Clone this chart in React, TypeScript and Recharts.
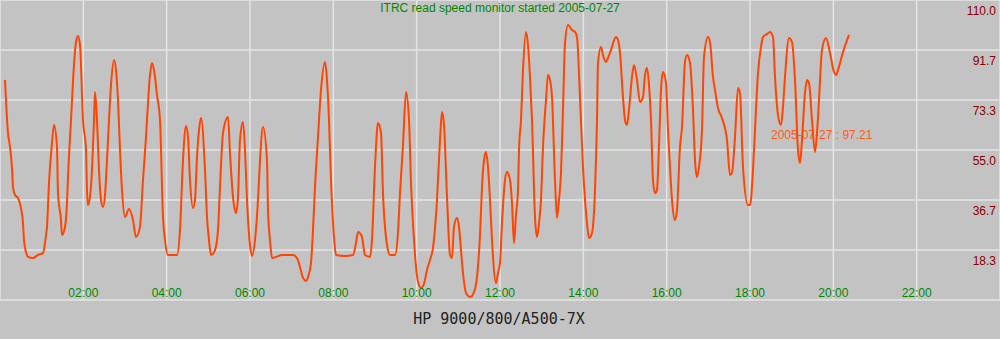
import React from "react"
import { LineChart, Line, XAxis, YAxis, CartesianGrid } from "recharts"

// hours since midnight
const times = [
  0.12, 0.192, 0.24, 0.288, 0.312, 0.36, 0.432, 0.504, 0.552, 0.576, 0.624, 0.672, 0.792, 0.912, 1.032, 1.104, 1.128,
  1.176, 1.248, 1.296, 1.368, 1.392, 1.464, 1.488, 1.56, 1.608, 1.632, 1.704, 1.776, 1.824, 1.872, 1.92, 1.992, 2.064,
  2.088, 2.112, 2.16, 2.208, 2.256, 2.28, 2.328, 2.376, 2.424, 2.472, 2.52, 2.568, 2.616, 2.664, 2.736, 2.784, 2.832,
  2.88, 2.928, 3.0, 3.096, 3.192, 3.264, 3.36, 3.432, 3.504, 3.528, 3.6, 3.648, 3.696, 3.768, 3.84, 3.912, 3.96, 4.032,
  4.248, 4.32, 4.392, 4.464, 4.512, 4.56, 4.632, 4.68, 4.728, 4.776, 4.824, 4.92, 4.968, 5.016, 5.064, 5.16, 5.232,
  5.28, 5.352, 5.472, 5.52, 5.592, 5.664, 5.712, 5.76, 5.832, 5.88, 5.928, 6.0, 6.048, 6.12, 6.192, 6.24, 6.312, 6.408,
  6.432, 6.48, 6.528, 6.624, 6.768, 7.032, 7.128, 7.2, 7.272, 7.344, 7.392, 7.464, 7.512, 7.56, 7.632, 7.704, 7.8,
  7.848, 7.896, 7.944, 8.016, 8.064, 8.28, 8.472, 8.544, 8.592, 8.688, 8.76, 8.88, 8.928, 9.0, 9.072, 9.144, 9.192,
  9.288, 9.36, 9.48, 9.552, 9.6, 9.672, 9.744, 9.816, 9.864, 9.936, 10.032, 10.104, 10.176, 10.248, 10.32, 10.392,
  10.488, 10.56, 10.608, 10.656, 10.728, 10.8, 10.848, 10.896, 10.968, 11.016, 11.064, 11.112, 11.184, 11.28, 11.376,
  11.448, 11.52, 11.568, 11.616, 11.664, 11.712, 11.76, 11.808, 11.904, 11.952, 12.0, 12.048, 12.12, 12.168, 12.24,
  12.288, 12.336, 12.384, 12.432, 12.456, 12.504, 12.552, 12.624, 12.672, 12.72, 12.768, 12.84, 12.888, 12.936, 12.984,
  13.032, 13.104, 13.152, 13.2, 13.248, 13.32, 13.368, 13.416, 13.464, 13.512, 13.56, 13.632, 13.728, 13.8, 13.848,
  13.92, 13.992, 14.088, 14.136, 14.208, 14.28, 14.328, 14.352, 14.424, 14.472, 14.544, 14.592, 14.664, 14.784, 14.832,
  14.88, 14.952, 15.0, 15.048, 15.096, 15.168, 15.216, 15.288, 15.36, 15.432, 15.48, 15.528, 15.576, 15.624, 15.672,
  15.72, 15.768, 15.816, 15.864, 15.912, 15.984, 16.032, 16.08, 16.128, 16.2, 16.248, 16.32, 16.368, 16.44, 16.488,
  16.56, 16.632, 16.68, 16.728, 16.776, 16.848, 16.896, 16.992, 17.04, 17.112, 17.16, 17.232, 17.328, 17.448, 17.52,
  17.568, 17.64, 17.712, 17.76, 17.832, 17.952, 18.0, 18.072, 18.12, 18.192, 18.264, 18.312, 18.408, 18.48, 18.552,
  18.6, 18.672, 18.744, 18.792, 18.84, 18.936, 19.008, 19.08, 19.152, 19.2, 19.248, 19.32, 19.368, 19.416, 19.488,
  19.56, 19.608, 19.656, 19.728, 19.824, 19.92, 20.016, 20.064, 20.112, 20.232, 20.376,
]

// read speed
const speeds = [
  80.7, 61.2, 56.1, 48.4, 41.4, 38.5, 37.4, 33.7, 28.2, 22.0, 17.6, 15.8, 15.4, 16.5, 17.2, 23.8, 26.8,
  42.9, 57.6, 64.2, 56.1, 39.2, 29.3, 23.8, 26.8, 35.6, 45.1, 66.0, 86.2, 94.6, 96.8, 93.5, 66.0, 55.0,
  40.3, 34.8, 37.8, 47.7, 66.0, 76.3, 66.0, 47.7, 36.7, 34.1, 38.5, 51.3, 66.0, 78.8, 88.0, 84.3, 73.3,
  55.0, 40.3, 30.4, 33.4, 29.3, 23.1, 26.8, 44.0, 59.8, 66.0, 82.5, 86.9, 84.3, 75.2, 66.0, 30.4, 22.0, 16.5,
  16.5, 25.7, 51.3, 63.8, 59.8, 44.0, 33.7, 36.7, 52.4, 62.3, 66.7, 47.7, 30.4, 22.0, 16.5, 18.3, 25.7,
  41.4, 61.2, 67.1, 53.9, 37.8, 31.9, 37.8, 58.7, 65.3, 55.0, 36.7, 20.2, 16.1, 22.0, 36.7, 51.3, 63.4, 51.3,
  33.0, 22.0, 15.4, 15.8, 16.5, 16.5, 15.4, 12.1, 8.1, 7.0, 8.4, 13.6, 25.7, 41.4, 59.8, 77.0, 87.3,
  80.7, 66.0, 44.0, 23.1, 16.5, 16.1, 16.5, 20.9, 24.9, 23.1, 16.5, 15.8, 22.0, 48.8, 64.9, 61.2, 39.2,
  20.2, 16.5, 16.5, 24.9, 39.2, 56.8, 76.3, 66.0, 42.9, 22.0, 6.6, 4.4, 5.9, 11.0, 14.7, 19.1,
  36.7, 58.7, 68.9, 64.2, 37.8, 16.5, 15.4, 26.8, 30.1, 26.8, 18.3, 9.9, 2.6, 1.1, 2.9,
  8.4, 23.8, 41.4, 51.3, 54.3, 48.8, 36.7, 22.0, 6.2, 9.9, 13.6, 28.2, 44.0, 46.9, 44.0,
  35.6, 20.9, 31.2, 40.3, 55.0, 66.0, 84.3, 98.3, 93.5, 81.8, 66.0, 30.4, 23.1, 28.2, 36.7,
  56.1, 73.3, 82.5, 80.7, 74.4, 44.0, 30.1, 36.7, 46.6, 69.7, 94.2, 100.8, 99.0, 98.3, 96.4,
  74.4, 48.8, 28.2, 22.7, 24.6, 40.3, 66.0, 86.9, 92.8, 89.8, 87.3, 88.7, 91.7, 96.4, 95.3,
  90.6, 74.4, 66.0, 64.2, 69.7, 81.8, 86.2, 80.7, 72.6, 74.4, 82.5, 85.1, 78.8, 66.0, 44.0,
  39.2, 40.3, 56.8, 77.0, 83.6, 79.6, 62.3, 48.8, 36.7, 29.3, 33.0, 56.1, 63.4, 87.3, 89.8,
  86.9, 69.7, 51.3, 45.1, 48.8, 62.3, 89.1, 96.4, 94.6, 81.8, 77.0, 70.4, 66.7, 58.7, 45.8,
  46.6, 59.8, 77.7, 75.9, 48.8, 34.8, 34.8, 47.7, 62.3, 83.2, 92.8, 96.4, 97.5, 98.3, 96.4,
  81.8, 67.8, 64.2, 70.8, 81.8, 96.1, 94.6, 80.7, 55.0, 50.2, 58.7, 75.9, 80.7, 79.6, 66.0,
  54.3, 61.2, 73.3, 91.7, 96.1, 90.6, 83.6, 82.5, 84.3, 90.9, 97.2,
]

const xTicks = [2, 4, 6, 8, 10, 12, 14, 16, 18, 20, 22]
const xTickLabels = ["02:00", "04:00", "06:00", "08:00", "10:00", "12:00", "14:00", "16:00", "18:00", "20:00", "22:00"]
const yTicks = [18.333, 36.667, 55, 73.333, 91.667, 110]
const yTickLabels = ["18.3", "36.7", "55.0", "73.3", "91.7", "110.0"]

const title = "ITRC read speed monitor started 2005-07-27"
const hostLabel = "HP 9000/800/A500-7X"
const lastLabel = "2005-07-27 : 97.21"

const data = times.map((t, i) => ({ t, v: speeds[i] }))

const FONT = "'Liberation Sans', Arial, sans-serif"

const XTick = (props: any) => {
  const { x, y, payload } = props
  const i = xTicks.indexOf(payload.value)
  return (
    <text x={x} y={y - 3} textAnchor="middle" fontFamily={FONT} fontSize={12} fill="#008800">
      {xTickLabels[i]}
    </text>
  )
}

const YTick = (props: any) => {
  const { y, payload } = props
  const i = yTicks.indexOf(payload.value)
  return (
    <text x={996} y={y + 15} textAnchor="end" fontFamily={FONT} fontSize={12} fill="#880000">
      {yTickLabels[i]}
    </text>
  )
}

export default function App() {
  return (
    <div style={{ position: "absolute", left: 0, top: 0, width: 1000, height: 339, background: "#c3c3c3" }}>
      <svg width={1000} height={339} style={{ position: "absolute", left: 0, top: 0 }}>
        <text x={771} y={139} fontFamily={FONT} fontSize={12} fill="#ff5a1a">
          {lastLabel}
        </text>
        <text x={499} y={324} textAnchor="middle" fontFamily="'DejaVu Sans Mono', monospace" fontSize={15} fill="#222222">
          {hostLabel}
        </text>
      </svg>
      <div style={{ position: "absolute", left: 0, top: 0 }}>
        <LineChart width={1000} height={339} data={data} margin={{ top: 0, right: 0, bottom: 0, left: 0 }}>
          <CartesianGrid stroke="#e4e4e4" strokeWidth={1.5} />
          <XAxis
            dataKey="t"
            type="number"
            domain={[0, 24]}
            ticks={xTicks}
            height={39}
            axisLine={false}
            tickLine={false}
            tickSize={0}
            tickMargin={0}
            tick={<XTick />}
            interval={0}
          />
          <YAxis
            orientation="right"
            mirror
            type="number"
            domain={[0, 110]}
            ticks={yTicks}
            width={40}
            axisLine={false}
            tickLine={false}
            tickSize={0}
            tickMargin={0}
            tick={<YTick />}
            interval={0}
          />
          <Line
            type="monotone"
            dataKey="v"
            stroke="#ff4500"
            strokeWidth={2}
            dot={false}
            activeDot={false}
            isAnimationActive={false}
          />
        </LineChart>
      </div>
      <svg width={1000} height={20} style={{ position: "absolute", left: 0, top: 0, pointerEvents: "none" }}>
        <text x={500} y={12} textAnchor="middle" fontFamily={FONT} fontSize={12} fill="#008800">
          {title}
        </text>
      </svg>
    </div>
  )
}
